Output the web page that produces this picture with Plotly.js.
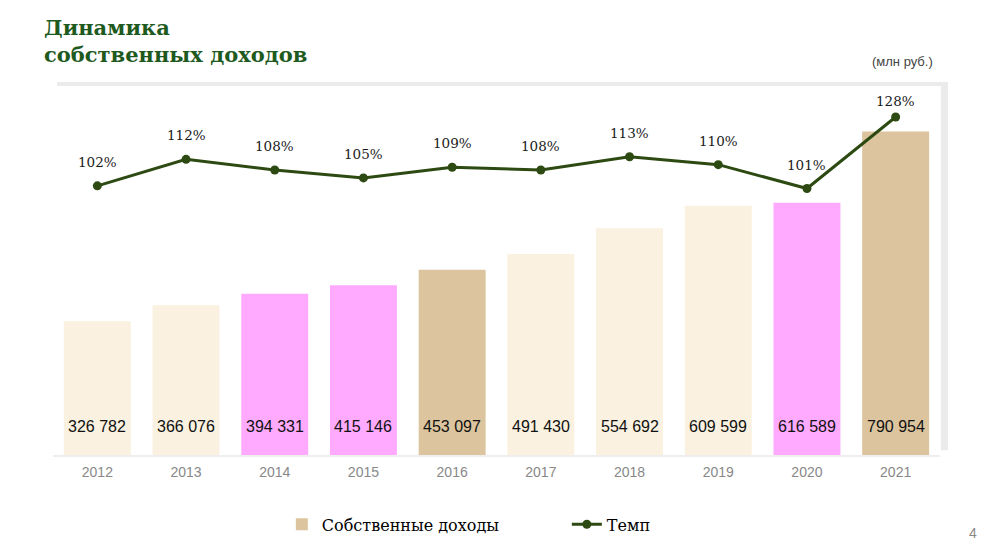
<!DOCTYPE html>
<html>
<head>
<meta charset="utf-8">
<script src="https://cdn.plot.ly/plotly-3.0.1.min.js"></script>
<style>
    html, body { margin: 0; padding: 0; background: #ffffff; }
    #chart { width: 990px; height: 557px; }
</style>
</head>
<body>
<div id="chart"></div>
<script>
// ------------------------------------------------------------------------------
// DATA

const years        = ['2012', '2013', '2014', '2015', '2016', '2017', '2018', '2019', '2020', '2021'];
const own_income   = [326782, 366076, 394331, 415146, 453097, 491430, 554692, 609599, 616589, 790954];
const growth_rate  = [102, 112, 108, 105, 109, 108, 113, 110, 101, 128];
// bar colour group per year: 0 = cream, 1 = pink, 2 = tan
const bar_group    = [0, 0, 1, 1, 2, 0, 0, 0, 1, 2];

// ------------------------------------------------------------------------------
// PARAMETERS

const group_colors = ['#FAF1E0', '#FFAAFF', '#DCC59E'];
const line_color   = '#2D4A12';
const serif_font   = '"DejaVu Serif", serif';
const sans_font    = '"Liberation Sans", Arial, sans-serif';

function formatThousands(v) {
    return String(v).replace(/\B(?=(\d{3})+(?!\d))/g, ' ');
}

// ------------------------------------------------------------------------------
// TRACES

const bar_trace = {
    type: 'bar',
    x: years,
    y: own_income,
    marker: { color: bar_group.map(g => group_colors[g]) },
    showlegend: false,
    hoverinfo: 'none'
};

// legend entry for the bars (tan swatch)
const bar_legend = {
    type: 'bar',
    x: [years[0]],
    y: [null],
    name: 'Собственные доходы',
    marker: { color: group_colors[2] },
    showlegend: true,
    hoverinfo: 'none'
};

const rate_trace = {
    type: 'scatter',
    mode: 'lines+markers',
    x: years,
    y: growth_rate,
    yaxis: 'y2',
    name: 'Темп',
    line: { color: line_color, width: 3 },
    marker: { color: line_color, size: 9 },
    hoverinfo: 'none'
};

// value labels (category axis: annotations use the category index)
const annotations = [];
for (let i = 0; i < years.length; i++) {
    annotations.push({
        x: i,
        y: 0,
        yref: 'y',
        text: formatThousands(own_income[i]),
        showarrow: false,
        yanchor: 'bottom',
        yshift: 18,
        font: { family: sans_font, size: 16, color: '#111111' }
    });
    annotations.push({
        x: i,
        y: growth_rate[i],
        yref: 'y2',
        text: growth_rate[i] + '%',
        showarrow: false,
        yanchor: 'bottom',
        yshift: i === years.length - 1 ? 6 : 14,
        font: { family: serif_font, size: 13.5, color: '#1A1A1A' }
    });
}

annotations.push({
    text: '<b>Динамика<br>собственных доходов</b>',
    xref: 'paper', yref: 'paper',
    x: -0.0125, y: 1.185,
    xanchor: 'left', yanchor: 'top',
    align: 'left',
    showarrow: false,
    font: { family: serif_font, size: 21, color: '#1E5A1E' }
});
annotations.push({
    text: '(млн руб.)',
    xref: 'paper', yref: 'paper',
    x: 0.994, y: 1.054,
    xanchor: 'right', yanchor: 'middle',
    showarrow: false,
    font: { family: sans_font, size: 13, color: '#444444' }
});
annotations.push({
    text: '4',
    xref: 'paper', yref: 'paper',
    x: 1.037, y: -0.21,
    xanchor: 'center', yanchor: 'middle',
    showarrow: false,
    font: { family: sans_font, size: 14, color: '#888888' }
});

// ------------------------------------------------------------------------------
// LAYOUT

const layout = {
    width: 990,
    height: 557,
    paper_bgcolor: '#ffffff',
    plot_bgcolor: 'rgba(0,0,0,0)',
    margin: { l: 53, r: 50, t: 82, b: 102 },
    barmode: 'overlay',
    bargap: 0.245,
    xaxis: {
        type: 'category',
        range: [-0.5, 9.5],
        showgrid: false,
        zeroline: false,
        showline: true,
        linecolor: '#EEEEEE',
        linewidth: 2,
        ticks: '',
        ticklabelstandoff: 3,
        tickfont: { family: sans_font, size: 14, color: '#888888' },
        fixedrange: true
    },
    yaxis: {
        range: [0, 912000],
        showgrid: false,
        zeroline: false,
        showticklabels: false,
        fixedrange: true
    },
    yaxis2: {
        overlaying: 'y',
        side: 'right',
        range: [0.4, 141.2],
        showgrid: false,
        zeroline: false,
        showticklabels: false,
        fixedrange: true
    },
    legend: {
        orientation: 'h',
        x: 0.258, xanchor: 'left',
        y: -0.186, yanchor: 'middle',
        font: { family: serif_font, size: 16, color: '#000000' },
        entrywidth: 240,
        entrywidthmode: 'pixels',
        bgcolor: 'rgba(0,0,0,0)'
    },
    shapes: [
        {   // frame shadow, top
            type: 'rect', xref: 'paper', yref: 'paper', layer: 'below',
            x0: 0.0045, x1: 1.009, y0: 0.989, y1: 1.0,
            line: { width: 0 }, fillcolor: '#EBEBEB'
        },
        {   // frame shadow, right
            type: 'rect', xref: 'paper', yref: 'paper', layer: 'below',
            x0: 1.001, x1: 1.009, y0: 0.013, y1: 1.0,
            line: { width: 0 }, fillcolor: '#EBEBEB'
        }
    ],
    annotations: annotations
};

Plotly.newPlot('chart', [bar_trace, bar_legend, rate_trace], layout, { displayModeBar: false, staticPlot: true });
</script>
</body>
</html>
